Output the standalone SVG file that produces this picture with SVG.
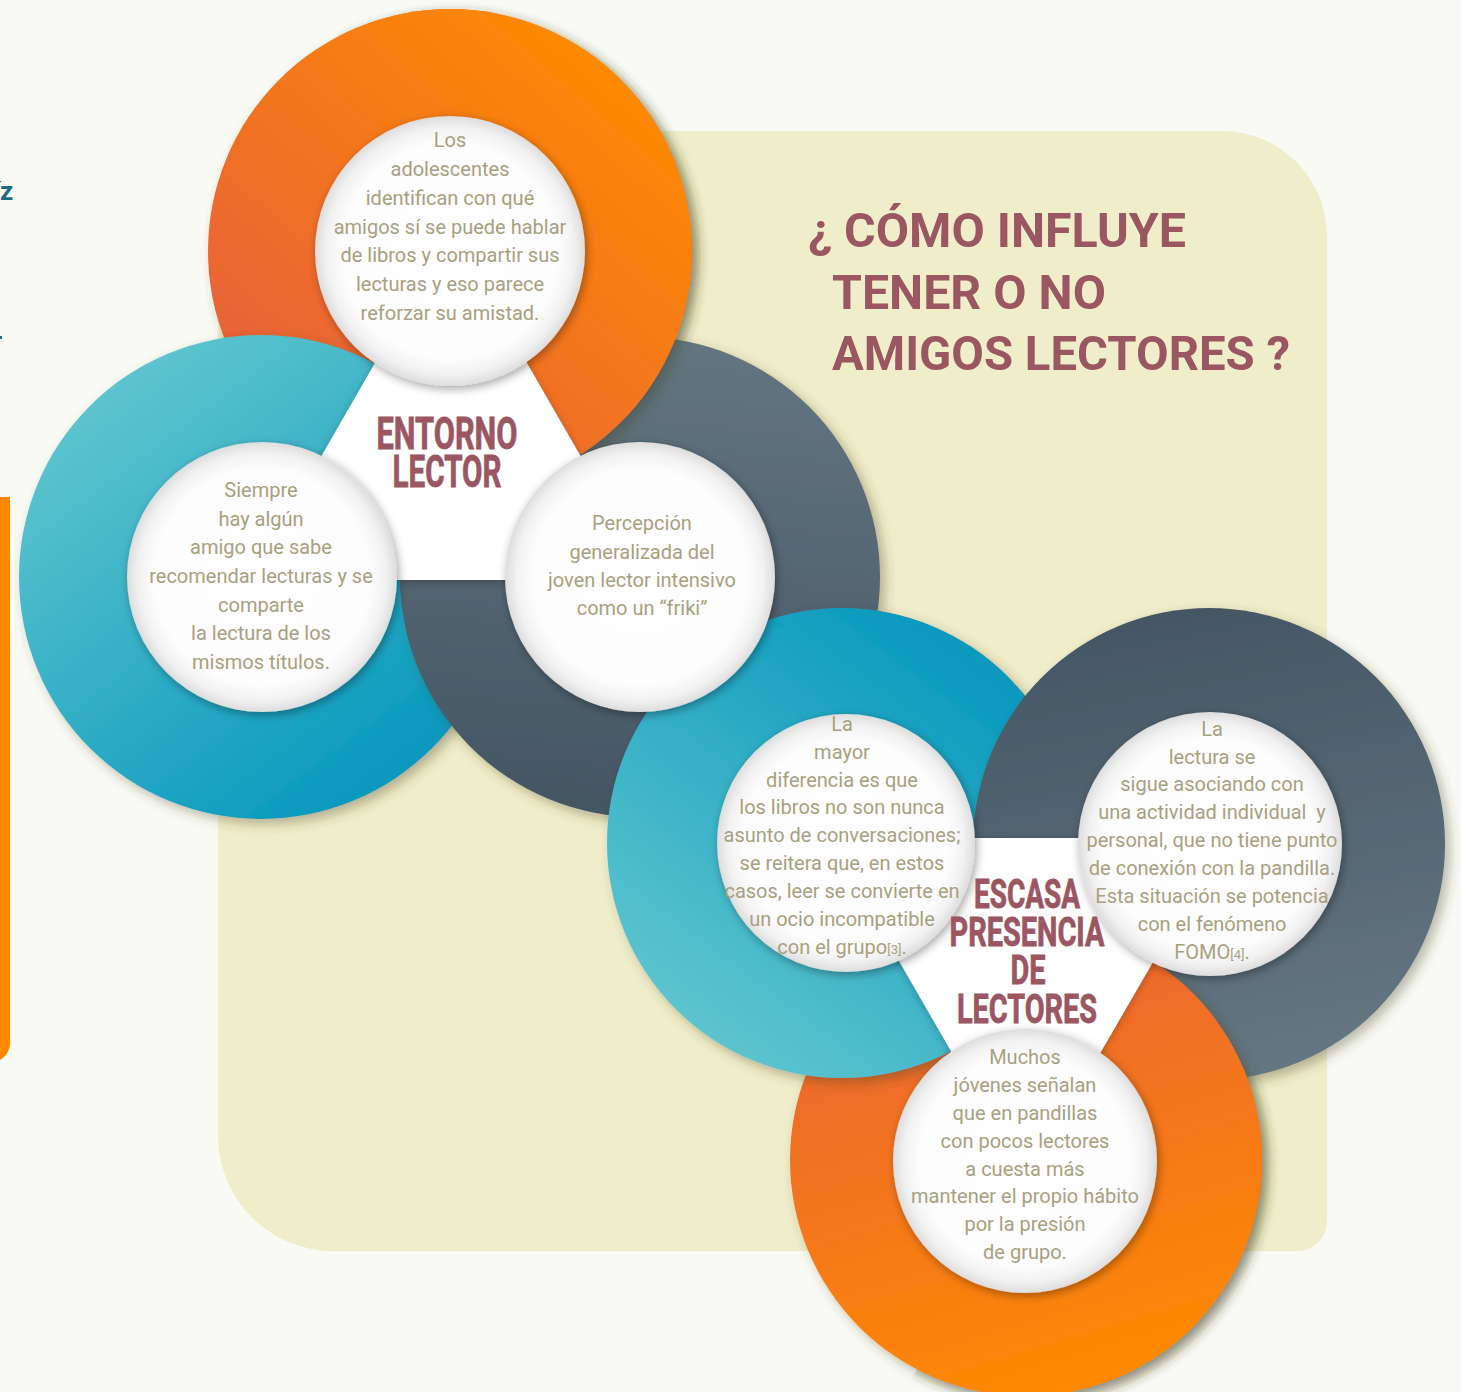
<svg xmlns="http://www.w3.org/2000/svg" width="1461" height="1392" viewBox="0 0 1461 1392">
<defs>
<style>
.t{font-family:Roboto,"Noto Sans","Liberation Sans",sans-serif;font-size:20px;fill:#A7A17F;text-anchor:middle}
.ref{font-size:13px}
.hub{font-family:Roboto,"Liberation Sans",sans-serif;font-weight:bold;fill:#9A5661;stroke:#9A5661;stroke-width:0.8;text-anchor:middle}
.ttl{font-family:Roboto,"Liberation Sans",sans-serif;font-weight:bold;font-size:49px;fill:#9A5661}
.disc{fill:url(#gWhite);filter:url(#shIn)}
.tri{fill:#FFFFFF;filter:url(#shTri)}
</style>
<linearGradient id="gOr1" x1="0.85" y1="0.1" x2="0.2" y2="0.85"><stop offset="0" stop-color="#FF8A00"/><stop offset="1" stop-color="#E8623A"/></linearGradient>
<linearGradient id="gOr2" x1="0.3" y1="0" x2="0.6" y2="1"><stop offset="0" stop-color="#E8623A"/><stop offset="1" stop-color="#FF8A00"/></linearGradient>
<linearGradient id="gTe1" x1="0.2" y1="0.1" x2="0.8" y2="0.9"><stop offset="0" stop-color="#5DC4CE"/><stop offset="1" stop-color="#0798BD"/></linearGradient>
<linearGradient id="gTe2" x1="0.8" y1="0.1" x2="0.2" y2="0.9"><stop offset="0" stop-color="#0798BD"/><stop offset="1" stop-color="#5DC4CE"/></linearGradient>
<linearGradient id="gGr1" x1="0.5" y1="0" x2="0.4" y2="1"><stop offset="0" stop-color="#63757F"/><stop offset="1" stop-color="#445563"/></linearGradient>
<linearGradient id="gGr2" x1="0.4" y1="0" x2="0.6" y2="1"><stop offset="0" stop-color="#455664"/><stop offset="1" stop-color="#657782"/></linearGradient>
<radialGradient id="gWhite" cx="0.5" cy="0.5" r="0.5"><stop offset="0" stop-color="#FFFFFF"/><stop offset="0.8" stop-color="#FDFDFD"/><stop offset="0.92" stop-color="#F1F1F1"/><stop offset="1" stop-color="#DDDDDD"/></radialGradient>
<filter id="shRing" x="-20%" y="-20%" width="140%" height="140%"><feDropShadow dx="5" dy="5" stdDeviation="6" flood-color="#3A3A20" flood-opacity="0.35"/></filter>
<filter id="shIn" x="-20%" y="-20%" width="140%" height="140%"><feDropShadow dx="2" dy="3" stdDeviation="5" flood-color="#000000" flood-opacity="0.35"/></filter>
<filter id="shTri" x="-20%" y="-20%" width="140%" height="140%"><feDropShadow dx="0" dy="2" stdDeviation="4" flood-color="#000000" flood-opacity="0.25"/></filter>
<clipPath id="cutR1"><polygon points="251,-115 852,926 1000,926 1000,-115"/></clipPath>
<clipPath id="cutR2"><polygon points="1425,492 826,1527 1500,1527 1500,492"/></clipPath>
</defs>

<g id="background">
<rect x="0" y="0" width="1461" height="1392" fill="#FAFAF5"/>
<path d="M318 131 H1222 A105 105 0 0 1 1327 236 V1221 A30 30 0 0 1 1297 1251 H333 A115 115 0 0 1 218 1136 V231 A100 100 0 0 1 318 131 Z" fill="#F0EDCA"/>
<path d="M0 497 H10 V1040 A20 20 0 0 1 0 1060 Z" fill="#FF8800"/>
<text x="-7" y="200" font-family="Roboto,'Liberation Sans',sans-serif" font-weight="bold" font-size="26" fill="#1B6C85">íz</text>
<rect x="0" y="336" width="2" height="3" fill="#1B6C85"/>
</g>

<g id="rings-entorno">
<circle id="ring-orange-1" cx="450" cy="251" r="242" fill="url(#gOr1)" filter="url(#shRing)"/>
<circle id="ring-teal-1" cx="261" cy="577" r="242" fill="url(#gTe1)" filter="url(#shRing)"/>
<circle id="ring-gray-1" cx="640" cy="577" r="240" fill="url(#gGr1)" filter="url(#shRing)"/>
<g clip-path="url(#cutR1)"><circle cx="450" cy="251" r="242" fill="url(#gOr1)" filter="url(#shRing)"/></g>
</g>

<g id="rings-escasa">
<circle id="ring-orange-2" cx="1026" cy="1160" r="236" fill="url(#gOr2)" filter="url(#shRing)"/>
<circle id="ring-teal-2" cx="842" cy="843" r="235" fill="url(#gTe2)" filter="url(#shRing)"/>
<circle id="ring-gray-2" cx="1209" cy="844" r="236" fill="url(#gGr2)" filter="url(#shRing)"/>
<g clip-path="url(#cutR2)"><circle cx="1026" cy="1160" r="236" fill="url(#gOr2)" filter="url(#shRing)"/></g>
</g>

<g id="hub-entorno">
<polygon class="tri" points="451,231 250,580 652,580"/>
</g>
<g id="hub-escasa">
<polygon class="tri" points="828,838 1225,838 1026,1181"/>
</g>

<g id="connectors"></g>

<g id="node-adolescentes">
<circle class="disc" cx="450" cy="251" r="135"/>
<text class="t" x="450" y="147">Los</text>
<text class="t" x="450" y="176">adolescentes</text>
<text class="t" x="450" y="205">identifican con qué</text>
<text class="t" x="450" y="234">amigos sí se puede hablar</text>
<text class="t" x="450" y="262">de libros y compartir sus</text>
<text class="t" x="450" y="291">lecturas y eso parece</text>
<text class="t" x="450" y="320">reforzar su amistad.</text>
</g>

<g id="node-siempre">
<circle class="disc" cx="262" cy="577" r="135"/>
<text class="t" x="261" y="497">Siempre</text>
<text class="t" x="261" y="526">hay algún</text>
<text class="t" x="261" y="554">amigo que sabe</text>
<text class="t" x="261" y="583">recomendar lecturas y se</text>
<text class="t" x="261" y="612">comparte</text>
<text class="t" x="261" y="640">la lectura de los</text>
<text class="t" x="261" y="669">mismos títulos.</text>
</g>

<g id="node-percepcion">
<circle class="disc" cx="640" cy="577" r="135"/>
<text class="t" x="642" y="530">Percepción</text>
<text class="t" x="642" y="559">generalizada del</text>
<text class="t" x="642" y="587">joven lector intensivo</text>
<text class="t" x="642" y="615">como un “friki”</text>
</g>

<g id="node-mayor">
<circle class="disc" cx="846" cy="843" r="129"/>
<text class="t" x="842" y="731">La</text>
<text class="t" x="842" y="759">mayor</text>
<text class="t" x="842" y="787">diferencia es que</text>
<text class="t" x="842" y="814">los libros no son nunca</text>
<text class="t" x="842" y="842">asunto de conversaciones;</text>
<text class="t" x="842" y="870">se reitera que, en estos</text>
<text class="t" x="842" y="898">casos, leer se convierte en</text>
<text class="t" x="842" y="926">un ocio incompatible</text>
<text class="t" x="842" y="954">con el grupo<tspan class="ref">[3]</tspan>.</text>
</g>

<g id="node-lectura">
<circle class="disc" cx="1210" cy="844" r="132"/>
<text class="t" x="1212" y="736">La</text>
<text class="t" x="1212" y="764">lectura se</text>
<text class="t" x="1212" y="791">sigue asociando con</text>
<text class="t" x="1212" y="819">una actividad individual&#160; y</text>
<text class="t" x="1212" y="847">personal, que no tiene punto</text>
<text class="t" x="1212" y="875">de conexión con la pandilla.</text>
<text class="t" x="1212" y="903">Esta situación se potencia</text>
<text class="t" x="1212" y="931">con el fenómeno</text>
<text class="t" x="1212" y="959">FOMO<tspan class="ref">[4]</tspan>.</text>
</g>

<g id="node-muchos">
<circle class="disc" cx="1025" cy="1161" r="132"/>
<text class="t" x="1025" y="1064">Muchos</text>
<text class="t" x="1025" y="1092">jóvenes señalan</text>
<text class="t" x="1025" y="1120">que en pandillas</text>
<text class="t" x="1025" y="1148">con pocos lectores</text>
<text class="t" x="1025" y="1176">a cuesta más</text>
<text class="t" x="1025" y="1203">mantener el propio hábito</text>
<text class="t" x="1025" y="1231">por la presión</text>
<text class="t" x="1025" y="1259">de grupo.</text>
</g>

<g id="label-entorno">
<text class="hub" x="447" y="449" font-size="44" textLength="141" lengthAdjust="spacingAndGlyphs">ENTORNO</text>
<text class="hub" x="447" y="487" font-size="44" textLength="109" lengthAdjust="spacingAndGlyphs">LECTOR</text>
</g>

<g id="label-escasa">
<text class="hub" x="1027" y="908" font-size="41" textLength="106" lengthAdjust="spacingAndGlyphs">ESCASA</text>
<text class="hub" x="1027" y="946" font-size="41" textLength="155" lengthAdjust="spacingAndGlyphs">PRESENCIA</text>
<text class="hub" x="1028" y="984" font-size="41" textLength="35" lengthAdjust="spacingAndGlyphs">DE</text>
<text class="hub" x="1027" y="1023" font-size="41" textLength="140" lengthAdjust="spacingAndGlyphs">LECTORES</text>
</g>

<g id="title">
<text class="ttl" x="808" y="247" textLength="378" lengthAdjust="spacingAndGlyphs">¿ CÓMO INFLUYE</text>
<text class="ttl" x="832" y="309" textLength="274" lengthAdjust="spacingAndGlyphs">TENER O NO</text>
<text class="ttl" x="832" y="370" textLength="458" lengthAdjust="spacingAndGlyphs">AMIGOS LECTORES ?</text>
</g>
</svg>
